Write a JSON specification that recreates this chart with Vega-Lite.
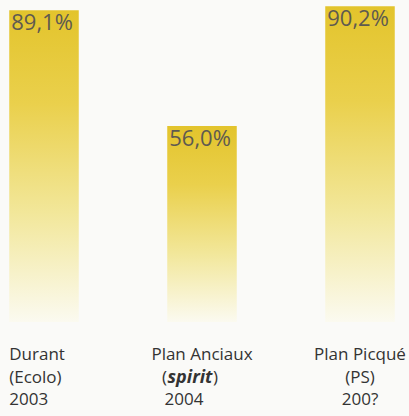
{
  "$schema": "https://vega.github.io/schema/vega-lite/v6.json",
  "width": 409,
  "height": 416,
  "padding": 0,
  "autosize": "none",
  "background": "#fafaf8",
  "config": {"view": {"stroke": null}, "font": "Open Sans"},
  "datasets": {
    "bars": [
      {"cat": "Durant", "value": 89.1, "label": "89,1%"},
      {"cat": "Anciaux", "value": 56.0, "label": "56,0%"},
      {"cat": "Picque", "value": 90.2, "label": "90,2%"}
    ],
    "labels": [
      {"cat": "Durant", "line": 1, "text": "Durant", "kind": "left"},
      {"cat": "Durant", "line": 2, "text": "(Ecolo)", "kind": "left"},
      {"cat": "Durant", "line": 3, "text": "2003", "kind": "left"},
      {"cat": "Anciaux", "line": 1, "text": "Plan Anciaux", "kind": "center"},
      {"cat": "Anciaux", "line": 2, "text": "spirit", "kind": "bold"},
      {"cat": "Anciaux", "line": 3, "text": "2004", "kind": "shift"},
      {"cat": "Picque", "line": 1, "text": "Plan Picqué", "kind": "center"},
      {"cat": "Picque", "line": 2, "text": "(PS)", "kind": "center"},
      {"cat": "Picque", "line": 3, "text": "200?", "kind": "center"}
    ]
  },
  "layer": [
    {
      "data": {"name": "bars"},
      "encoding": {
        "x": {"field": "cat", "type": "nominal", "sort": null, "axis": null,
              "scale": {"range": [-35, 439], "paddingInner": 0.56, "paddingOuter": 0.28}},
        "y": {"field": "value", "type": "quantitative", "axis": null,
              "scale": {"domain": [0, 92], "range": [322, 0]}}
      },
      "layer": [
        {
          "mark": {"type": "bar",
            "color": {"gradient": "linear", "x1": 0, "y1": 0, "x2": 0, "y2": 1,
              "stops": [
                {"offset": 0, "color": "#e3c42c"},
                {"offset": 0.3, "color": "#ead04c"},
                {"offset": 0.65, "color": "#f2e79a"},
                {"offset": 1, "color": "#fbfaf0"}
              ]}}
        },
        {
          "mark": {"type": "text", "align": "left", "baseline": "alphabetic", "dx": 2, "dy": 20,
                   "fontSize": 22, "color": "#5e5a50", "font": "Open Sans"},
          "encoding": {
            "x": {"field": "cat", "type": "nominal", "sort": null, "bandPosition": 0},
            "text": {"field": "label"}
          }
        }
      ]
    },
    {
      "data": {"name": "labels"},
      "encoding": {
        "x": {"field": "cat", "type": "nominal", "sort": ["Durant", "Anciaux", "Picque"], "axis": null},
        "y": {"field": "line", "type": "quantitative", "axis": null,
              "scale": {"domain": [1, 3], "range": [360, 405]}},
        "text": {"field": "text"}
      },
      "layer": [
        {
          "transform": [{"filter": "datum.kind == 'left'"}],
          "mark": {"type": "text", "align": "left", "baseline": "alphabetic", "fontSize": 17, "color": "#333333"},
          "encoding": {"x": {"field": "cat", "type": "nominal", "sort": ["Durant", "Anciaux", "Picque"], "bandPosition": 0}}
        },
        {
          "transform": [{"filter": "datum.kind == 'center'"}],
          "mark": {"type": "text", "align": "center", "baseline": "alphabetic", "fontSize": 17, "color": "#333333"}
        },
        {
          "transform": [{"filter": "datum.kind == 'shift'"}],
          "mark": {"type": "text", "align": "center", "baseline": "alphabetic", "fontSize": 17, "color": "#333333", "dx": -18}
        },
        {
          "transform": [{"filter": "datum.kind == 'bold'"}],
          "mark": {"type": "text", "align": "center", "baseline": "alphabetic", "fontSize": 18, "color": "#333333",
                   "fontWeight": "bold", "fontStyle": "italic", "dx": -12}
        },
        {
          "transform": [{"filter": "datum.kind == 'bold'"}],
          "mark": {"type": "text", "align": "right", "baseline": "alphabetic", "fontSize": 17, "color": "#333333", "dx": -35},
          "encoding": {"text": {"value": "("}}
        },
        {
          "transform": [{"filter": "datum.kind == 'bold'"}],
          "mark": {"type": "text", "align": "left", "baseline": "alphabetic", "fontSize": 17, "color": "#333333", "dx": 11},
          "encoding": {"text": {"value": ")"}}
        }
      ]
    }
  ],
  "resolve": {"scale": {"y": "independent"}}
}
